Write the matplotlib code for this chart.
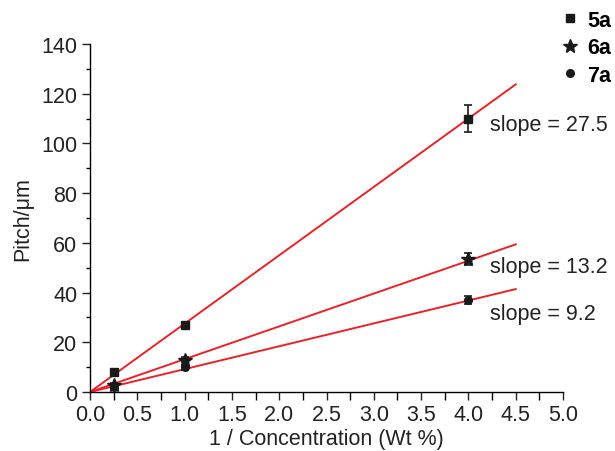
import matplotlib
matplotlib.use("Agg")
import matplotlib.pyplot as plt
from matplotlib.ticker import MultipleLocator
from matplotlib.lines import Line2D
import numpy as np

plt.rcParams['font.family'] = ['Liberation Sans', 'DejaVu Sans']

x = [0.25, 1.0, 4.0]
series = ['5a', '6a', '7a']
y_5a = [8, 27, 110]
y_6a = [3, 13, 53.5]
y_7a = [2, 10, 37]
err_5a = [0.8, 1.0, 5.5]
err_6a = [0.5, 1.0, 2.5]
err_7a = [0.5, 1.0, 1.5]
slopes = [27.5, 13.2, 9.2]
fit_x = [0, 4.5]
slope_labels = ['slope = 27.5', 'slope = 13.2', 'slope = 9.2']

FS = 15.5
fig = plt.figure(figsize=(6.15, 4.52), dpi=100)
ax = fig.add_axes([90/615, 1-393/452, (563-90)/615, (393-45)/452])

ys = [y_5a, y_6a, y_7a]
errs = [err_5a, err_6a, err_7a]
markers = ['s', '*', 'o']
msizes = [5.5, 10, 5.5]
handles = []
for s, (yy, ee, m, ms) in enumerate(zip(ys, errs, markers, msizes)):
    fx = np.array(fit_x)
    ax.plot(fx, slopes[s]*fx, color='#e8222a', lw=1.4, zorder=2)
    ax.errorbar(x, yy, yerr=ee, fmt=m, color='#1a1a1a', ms=ms, capsize=3,
                elinewidth=1.2, capthick=1.2, zorder=3)
    handles.append(Line2D([], [], ls='none', marker=m, ms=ms, color='#1a1a1a', label=series[s]))

ax.set_xlim(0, 5.0)
ax.set_ylim(0, 140)
ax.xaxis.set_major_locator(MultipleLocator(0.5))
ax.xaxis.set_minor_locator(MultipleLocator(0.25))
ax.yaxis.set_major_locator(MultipleLocator(20))
ax.yaxis.set_minor_locator(MultipleLocator(10))
ax.xaxis.set_major_formatter(matplotlib.ticker.FormatStrFormatter('%.1f'))
for sp in ['top', 'right']:
    ax.spines[sp].set_visible(False)
for sp in ['left', 'bottom']:
    ax.spines[sp].set_linewidth(1.0)
ax.tick_params(direction='out', length=6, width=1, labelsize=FS, colors='#222222', pad=3)
ax.tick_params(axis='y', which='minor', direction='out', length=3, width=1)
ax.tick_params(axis='x', which='minor', direction='out', length=6, width=1)
ax.set_xlabel('1 / Concentration (Wt %)', fontsize=FS, labelpad=2, color='#222222')
ax.set_ylabel('Pitch/\u03bcm', fontsize=FS, labelpad=6, color='#222222')

ax.text(4.23, 107.8, slope_labels[0], fontsize=FS, va='center', ha='left', color='#222222')
ax.text(4.23, 50.3, slope_labels[1], fontsize=FS, va='center', ha='left', color='#222222')
ax.text(4.23, 31.4, slope_labels[2], fontsize=FS, va='center', ha='left', color='#222222')

leg = fig.legend(handles=handles, loc='upper left', bbox_to_anchor=(559/615, 1-11/452),
                 frameon=False, prop={'weight': 'bold', 'size': FS}, handletextpad=0.3,
                 handlelength=1.0, labelspacing=0.3, borderaxespad=0, borderpad=0)

fig.savefig('out.png', dpi=100)
